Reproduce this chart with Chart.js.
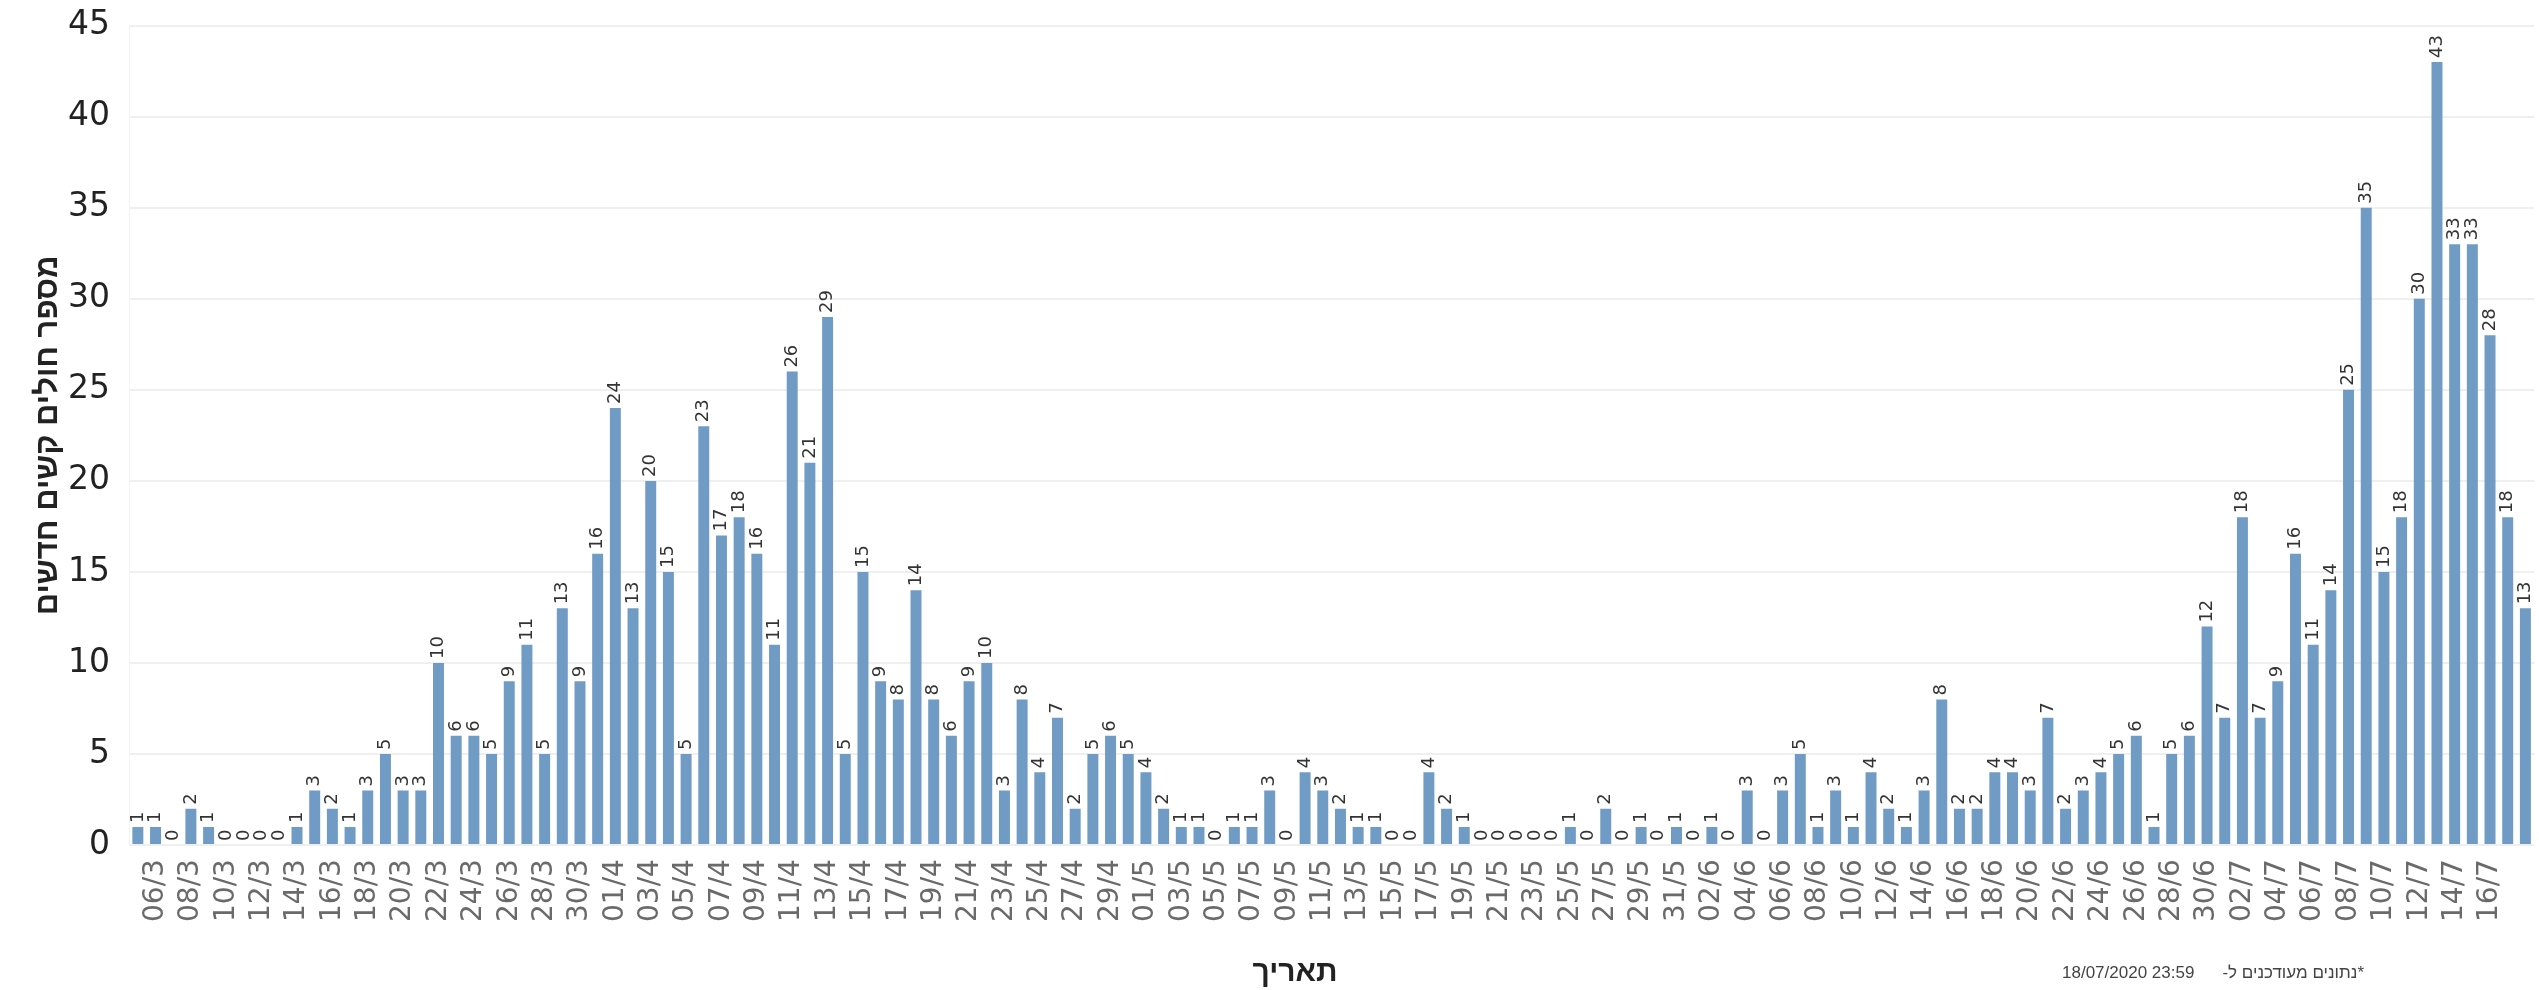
<!DOCTYPE html>
<html>
<head>
<meta charset="utf-8">
<script src="https://cdn.jsdelivr.net/npm/chart.js@4"></script>
<style>
  html, body { margin: 0; padding: 0; background: #fff; overflow: hidden; }
  #wrap { width: 2573px; height: 990px; }
</style>
</head>
<body>
<div id="wrap"><canvas id="chart-kashim"></canvas></div>
<script>
// ימים בחודש -> תוויות dd/m
function days(month, from, to) {
    const out = [];
    for (let d = from; d <= to; d++) out.push(String(d).padStart(2, '0') + '/' + month);
    return out;
}

const categories = [
    ...days(3, 5, 31),
    ...days(4, 1, 30),
    ...days(5, 1, 31),
    ...days(6, 1, 30),
    ...days(7, 1, 18),
];

// חולים קשים חדשים לפי יום
const marchVals = [1, 1, 0, 2, 1, 0, 0, 0, 0, 1, 3, 2, 1, 3, 5, 3, 3, 10, 6, 6, 5, 9, 11, 5, 13, 9, 16];
const aprilVals = [24, 13, 20, 15, 5, 23, 17, 18, 16, 11, 26, 21, 29, 5, 15, 9, 8, 14, 8, 6, 9, 10, 3, 8, 4, 7, 2, 5, 6, 5];
const mayVals   = [4, 2, 1, 1, 0, 1, 1, 3, 0, 4, 3, 2, 1, 1, 0, 0, 4, 2, 1, 0, 0, 0, 0, 0, 1, 0, 2, 0, 1, 0, 1];
const juneVals  = [0, 1, 0, 3, 0, 3, 5, 1, 3, 1, 4, 2, 1, 3, 8, 2, 2, 4, 4, 3, 7, 2, 3, 4, 5, 6, 1, 5, 6, 12];
const julyVals  = [7, 18, 7, 9, 16, 11, 14, 25, 35, 15, 18, 30, 43, 33, 33, 28, 18, 13];
const values = [...marchVals, ...aprilVals, ...mayVals, ...juneVals, ...julyVals];

const yTicks = [0, 5, 10, 15, 20, 25, 30, 35, 40, 45];

const COLORS = {
    bar:   '#6f9bc4',
    text:  '#222222',
    muted: '#6a6a6a',
    grid:  '#efefef',
};
const FONT = "'DejaVu Sans', Verdana, sans-serif";
const HEB = "'Liberation Sans', Arial, sans-serif";

// תוויות ערך מסובבות מעל כל עמודה
const valueLabels = {
    id: 'valueLabels',
    afterDatasetsDraw(chart) {
        const ctx = chart.ctx;
        const meta = chart.getDatasetMeta(0);
        ctx.save();
        ctx.font = '18px ' + FONT;
        ctx.fillStyle = '#333';
        ctx.textAlign = 'left';
        ctx.textBaseline = 'middle';
        meta.data.forEach((bar, i) => {
            ctx.save();
            ctx.translate(bar.x, bar.y - 4);
            ctx.rotate(-Math.PI / 2);
            ctx.fillText(String(values[i]), 0, 0);
            ctx.restore();
        });
        ctx.restore();
    }
};

// כותרת ציר X והערת עדכון בתחתית
const bottomTexts = {
    id: 'bottomTexts',
    afterDraw(chart) {
        const ctx = chart.ctx;
        ctx.save();
        ctx.fillStyle = COLORS.text;
        ctx.textBaseline = 'middle';
        ctx.textAlign = 'center';
        ctx.font = 'bold 30px ' + HEB;
        ctx.fillText('תאריך', 1295, 973);

        ctx.fillStyle = '#444';
        ctx.font = '17px ' + HEB;
        ctx.textAlign = 'left';
        ctx.fillText('18/07/2020 23:59', 2062, 973);
        ctx.direction = 'rtl';
        ctx.textAlign = 'right';
        ctx.fillText('*נתונים מעודכנים ל-', 2364, 973);
        ctx.restore();
    }
};

new Chart(document.getElementById('chart-kashim'), {
    type: 'bar',
    data: {
        labels: categories,
        datasets: [{
            data: values,
            backgroundColor: COLORS.bar,
            borderWidth: 0,
            categoryPercentage: 1,
            barPercentage: 0.62,
        }]
    },
    options: {
        responsive: true,
        maintainAspectRatio: false,
        animation: false,
        layout: { padding: { top: 0, right: 0, bottom: 54, left: 30 } },
        plugins: {
            legend: { display: false },
            tooltip: { enabled: false },
        },
        scales: {
            x: {
                grid: { display: false, drawTicks: false },
                border: { display: false },
                ticks: {
                    autoSkip: false,
                    minRotation: 90,
                    maxRotation: 90,
                    padding: 14,
                    color: COLORS.muted,
                    font: { family: FONT, size: 28 },
                    callback: (v, i) => (i % 2 === 1 && i < categories.length - 1 ? categories[i] : ''),
                },
            },
            y: {
                min: 0,
                max: 45,
                afterBuildTicks: axis => { axis.ticks = yTicks.map(v => ({ value: v })); },
                afterFit: axis => { axis.width = 99; },
                grid: { color: COLORS.grid, lineWidth: 2, drawTicks: false },
                border: { display: true, color: '#f3f3f3' },
                ticks: {
                    color: COLORS.text,
                    padding: 19,
                    font: { family: FONT, size: 33, lineHeight: 0.4 },
                },
                title: {
                    display: true,
                    text: 'מספר חולים קשים חדשים',
                    color: COLORS.text,
                    font: { family: HEB, size: 31, weight: 'bold' },
                    padding: { top: 0, bottom: 0 },
                }
            }
        }
    },
    plugins: [valueLabels, bottomTexts]
});
</script>
</body>
</html>
